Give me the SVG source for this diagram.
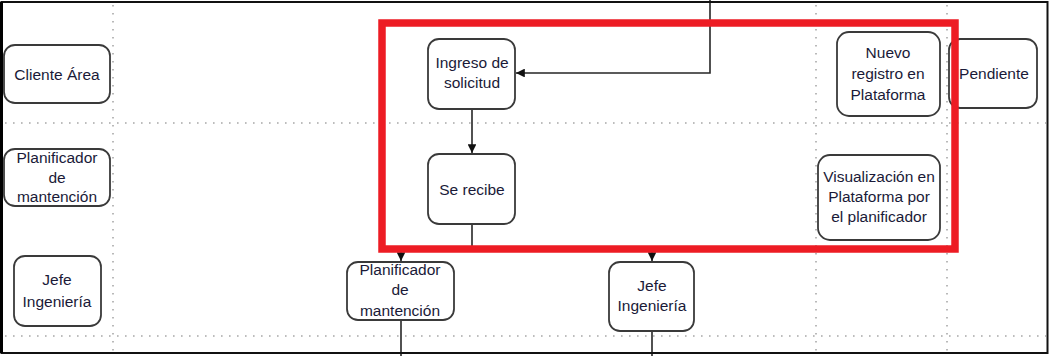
<svg xmlns="http://www.w3.org/2000/svg" width="1050" height="356" viewBox="0 0 1050 356">
<style>
.grid{stroke:#a8a8a8;stroke-width:1.6;stroke-dasharray:1.6 6.4;fill:none}
.node rect{fill:#fff;stroke:#3a3a3a;stroke-width:1.8}
.node text{font-family:"Liberation Sans",Arial,sans-serif;font-size:15.5px;fill:#1a1a38;text-anchor:middle}
.conn{stroke:#262626;stroke-width:1.6;fill:none}
</style>
<defs>
<marker id="ah" viewBox="0 0 10 10" refX="10" refY="5" markerWidth="5.5" markerHeight="5.5" orient="auto" markerUnits="strokeWidth">
<path d="M0,0 L10,5 L0,10 z" fill="#111"/>
</marker>
</defs>
<rect x="0" y="0" width="1050" height="356" fill="#fff"/>
<g id="grid">
<line class="grid" x1="113" y1="5" x2="113" y2="352"/>
<line class="grid" x1="816" y1="5" x2="816" y2="352"/>
<line class="grid" x1="947" y1="5" x2="947" y2="352"/>
<line class="grid" x1="5" y1="123" x2="1046" y2="123"/>
<line class="grid" x1="5" y1="336" x2="1046" y2="336"/>
</g>
<g id="connectors">
<path class="conn" d="M710,0 V73 H516" marker-end="url(#ah)"/>
<path class="conn" d="M472,109 V153" marker-end="url(#ah)"/>
<path class="conn" d="M472,224 V250"/>
<path class="conn" d="M401,250 H652"/>
<path class="conn" d="M401,250 V261" marker-end="url(#ah)"/>
<path class="conn" d="M652,250 V261" marker-end="url(#ah)"/>
<path class="conn" d="M401,320 V356"/>
<path class="conn" d="M652,331 V356"/>
</g>
<g id="n-cliente" class="node">
<rect x="4" y="45" width="106" height="58" rx="11"/>
<text x="57" y="80">Cliente Área</text>
</g>
<g id="n-planificador-left" class="node">
<rect x="4" y="149" width="106" height="57" rx="11"/>
<text x="57" y="163">Planificador</text>
<text x="57" y="183">de</text>
<text x="57" y="202">mantención</text>
</g>
<g id="n-jefe-left" class="node">
<rect x="14" y="256" width="87" height="70" rx="11"/>
<text x="57" y="285">Jefe</text>
<text x="57" y="307">Ingeniería</text>
</g>
<g id="n-ingreso" class="node">
<rect x="428" y="39" width="87" height="70" rx="11"/>
<text x="472" y="68">Ingreso de</text>
<text x="472" y="88">solicitud</text>
</g>
<g id="n-serecibe" class="node">
<rect x="428" y="154" width="87" height="70" rx="11"/>
<text x="472" y="195">Se recibe</text>
</g>
<g id="n-planificador-mid" class="node">
<rect x="347" y="262" width="107" height="58" rx="11"/>
<text x="400" y="275">Planificador</text>
<text x="400" y="295">de</text>
<text x="400" y="316">mantención</text>
</g>
<g id="n-jefe-mid" class="node">
<rect x="609" y="262" width="85" height="69" rx="11"/>
<text x="652" y="291">Jefe</text>
<text x="652" y="311">Ingeniería</text>
</g>
<g id="n-nuevo" class="node">
<rect x="837" y="32" width="103" height="84" rx="12"/>
<text x="888" y="58">Nuevo</text>
<text x="888" y="79">registro en</text>
<text x="888" y="100">Plataforma</text>
</g>
<g id="n-pendiente" class="node">
<rect x="949" y="39" width="88" height="69" rx="11"/>
<text x="994" y="79">Pendiente</text>
</g>
<g id="n-visualizacion" class="node">
<rect x="818" y="155" width="122" height="85" rx="12"/>
<text x="879" y="182">Visualización en</text>
<text x="879" y="202">Plataforma por</text>
<text x="879" y="222">el planificador</text>
</g>
<g id="highlight">
<rect x="382" y="23" width="573" height="226" fill="none" stroke="#ED1C24" stroke-width="7.5"/>
</g>
<g id="frame">
<rect x="1.5" y="2" width="1046" height="351" fill="none" stroke="#111" stroke-width="2"/>
<line x1="1.5" y1="2" x2="1.5" y2="353" stroke="#000" stroke-width="3"/>
</g>
</svg>
